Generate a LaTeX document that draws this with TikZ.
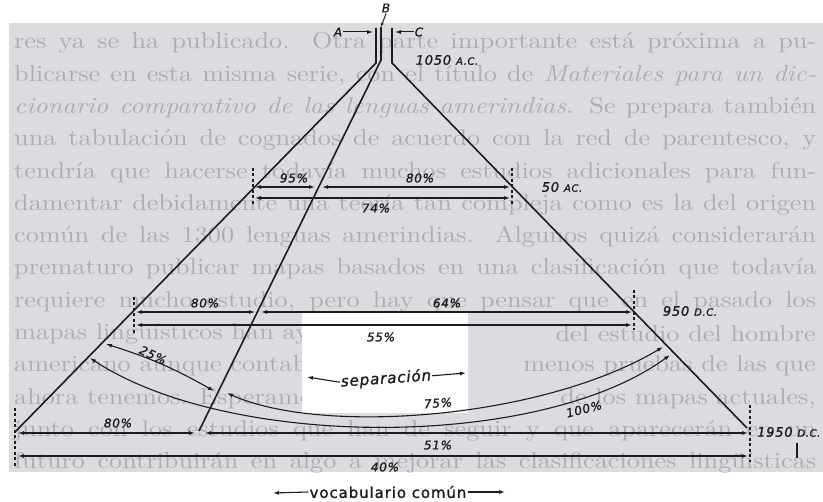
\documentclass[tikz,border=0pt]{standalone}
\usepackage{fontspec}
\newfontfamily\handfont{DejaVu Sans}[LetterSpace=6, FakeBold=1.2]
\newfontfamily\pagefont{lmroman10-regular}[Extension=.otf, ItalicFont=lmroman10-italic, FakeStretch=1.14]
\usetikzlibrary{arrows.meta}
\definecolor{scan}{RGB}{220,220,224}
\definecolor{bleed}{RGB}{172,172,180}
\definecolor{ink}{RGB}{28,28,28}
\tikzset{>={Latex[length=6pt,width=4pt]}}
\newcommand{\era}[1]{{\fontsize{10}{10}\selectfont #1}}

\begin{document}
\begin{tikzpicture}[x=1pt, y=-1pt,
    branch/.style={ink, line width=1.6pt},
    gap/.style={ink, line width=1.1pt, <->},
    tick/.style={ink, line width=1.3pt, dash pattern=on 3pt off 2.5pt},
    lbl/.style={ink, font=\handfont\itshape\fontsize{12}{12}\selectfont, inner sep=1pt},
    era/.style={lbl, font=\handfont\itshape\fontsize{13}{13}\selectfont},
    page/.style={bleed, font=\pagefont\fontsize{23}{23}\selectfont, inner sep=0pt}]
    \fill[white] (0,0) rectangle (823,502);
    \useasboundingbox (0,0) rectangle (823,502);
    \fill[scan] (9,23) rectangle (823,472);
    % page text behind the drawing
    \foreach \row/\txt in {0/{res ya se ha publicado. Otra parte importante está próxima a pu-},
        1/{blicarse en esta misma serie, con el título de \textit{Materiales para un dic-}},
        2/{\textit{cionario comparativo de las lenguas amerindias}. Se prepara también},
        3/{una tabulación de cognados de acuerdo con la red de parentesco, y},
        4/{tendría que hacerse todavía muchos estudios adicionales para fun-},
        5/{damentar debidamente una teoría tan compleja como es la del origen},
        6/{común de las 1300 lenguas amerindias. Algunos quizá considerarán},
        7/{prematuro publicar mapas basados en una clasificación que todavía},
        8/{requiere mucho estudio, pero hay que pensar que en el pasado los},
        12/{junto con los estudios que han de seguir y que aparecerán en un},
        13/{futuro contribuirán en algo a mejorar las clasificaciones lingüísticas}}
        \node[page, anchor=west] (line\row) at (14,{43+32.3*\row}) {\makebox[802pt][s]{\txt}};
    \foreach \row/\left/\right in {9/{mapas lingüísticos han ayudado}/{del estudio del hombre},
        10/{americano aunque contaban}/{menos pruebas de las que},
        11/{ahora tenemos. Esperamos que}/{de los mapas actuales,}}
    {
        \node[page, anchor=west] (left\row) at (14,{43+32.3*\row}) {\left};
        \node[page, anchor=east] (right\row) at (816,{43+32.3*\row}) {\right};
    }
    \fill[white] (302,313) rectangle (468,413);

    % the three branches
    \coordinate (Atop) at (376,28); \coordinate (Abend) at (376,63); \coordinate (Aend) at (15,432);
    \coordinate (Btop) at (381,27); \coordinate (Bbend) at (381,60); \coordinate (Bend) at (199,431);
    \coordinate (Ctop) at (392,28); \coordinate (Cbend) at (392,63); \coordinate (Cend) at (747,428);
    \draw[branch] (Atop) -- (Abend) -- (Aend);
    \draw[branch] (Btop) -- (Bbend) -- (Bend);
    \draw[branch] (Ctop) -- (Cbend) -- (Cend);
    \node[lbl] (labA) at (338,32) {A};
    \node[lbl] (labB) at (386,8) {B};
    \node[lbl] (labC) at (419,32) {C};
    \draw[ink, line width=1pt, ->] (labA.east) -- (373,32);
    \draw[ink, line width=1pt, ->] (labC.west) -- (395,32);
    \draw[ink, line width=1pt, -{Latex[length=4pt,width=3pt]}] (labB.south) -- (Btop);
    \node[era] (t1050) at (447,60) {1050 \era{A.C.}};
    \node[era] (t50) at (562,187) {50 \era{AC.}};
    \node[era] (t950) at (690,311) {950 \era{D.C.}};
    \node[era, anchor=west] (t1950) at (756,432) {1950 \era{D.C.}};
    \coordinate (mark) at (797,443);
    \draw[ink, line width=1.8pt] (mark) -- ++(0,15);

    % time lines
    \foreach \x/\ya/\yb in {253/168/206, 512/168/206, 134/297/335, 634/290/330, 15/408/466, 750/405/462}
        \draw[tick] (\x,\ya) -- (\x,\yb);

    \coordinate (a95) at (255,187); \coordinate (b95) at (315,187);
    \coordinate (a80) at (322,187); \coordinate (b80) at (510,187);
    \coordinate (a74) at (255,198); \coordinate (b74) at (510,198);
    \coordinate (c80) at (136,312); \coordinate (d80) at (255,312);
    \coordinate (c64) at (261,312); \coordinate (d64) at (632,312);
    \coordinate (c55) at (136,325); \coordinate (d55) at (632,325);
    \coordinate (e80) at (18,433); \coordinate (f80) at (195,433);
    \coordinate (e51) at (205,433); \coordinate (f51) at (748,433);
    \coordinate (e40) at (18,456); \coordinate (f40) at (748,456);
    \foreach \s/\t in {a95/b95, a80/b80, a74/b74, c80/d80, c64/d64, c55/d55, e80/f80, e51/f51, e40/f40}
        \draw[gap] (\s) -- (\t);

    \node[lbl] (p95) at (294,178) {95\%};
    \node[lbl] (p80a) at (420,178) {80\%};
    \node[lbl] (p74) at (376,208) {74\%};
    \node[lbl] (p80b) at (205,303) {80\%};
    \node[lbl] (p64) at (447,303) {64\%};
    \node[lbl] (p55) at (381,337) {55\%};
    \node[lbl] (p80c) at (118,423) {80\%};
    \node[lbl] (p51) at (438,445) {51\%};
    \node[lbl] (p40) at (385,467) {40\%};

    % separation arcs
    \coordinate (g25) at (106,344); \coordinate (h25) at (214,391);
    \coordinate (g75) at (227,393); \coordinate (h75) at (663,347);
    \coordinate (g100) at (90,358); \coordinate (h100) at (670,355);
    \draw[gap] (g25) to[bend left=6] (h25);
    \draw[gap] (g75) .. controls (320,435) and (540,420) .. (h75);
    \draw[gap] (g100) .. controls (230,450) and (540,450) .. (h100);
    \node[lbl, rotate=-25] (p25) at (153,355) {25\%};
    \node[lbl, rotate=4] (p75) at (438,403) {75\%};
    \node[lbl, rotate=14] (p100) at (584,409) {100\%};

    \node[lbl, font=\handfont\itshape\fontsize{15}{15}\selectfont, rotate=4] (sep) at (386,379) {separación};
    \coordinate (sepL) at (307,377); \coordinate (sepR) at (466,373);
    \draw[ink, line width=1.1pt, ->] (sep.west) -- (sepL);
    \draw[ink, line width=1.1pt, ->] (sep.east) -- (sepR);
    \node[lbl, font=\handfont\fontsize{15}{15}\selectfont] (voc) at (388,492) {vocabulario común};
    \coordinate (vocL) at (273,493); \coordinate (vocR) at (505,492);
    \draw[ink, line width=1.1pt, ->] (voc.west) -- (vocL);
    \draw[ink, line width=1.1pt, ->] (voc.east) -- (vocR);
\end{tikzpicture}
\end{document}
